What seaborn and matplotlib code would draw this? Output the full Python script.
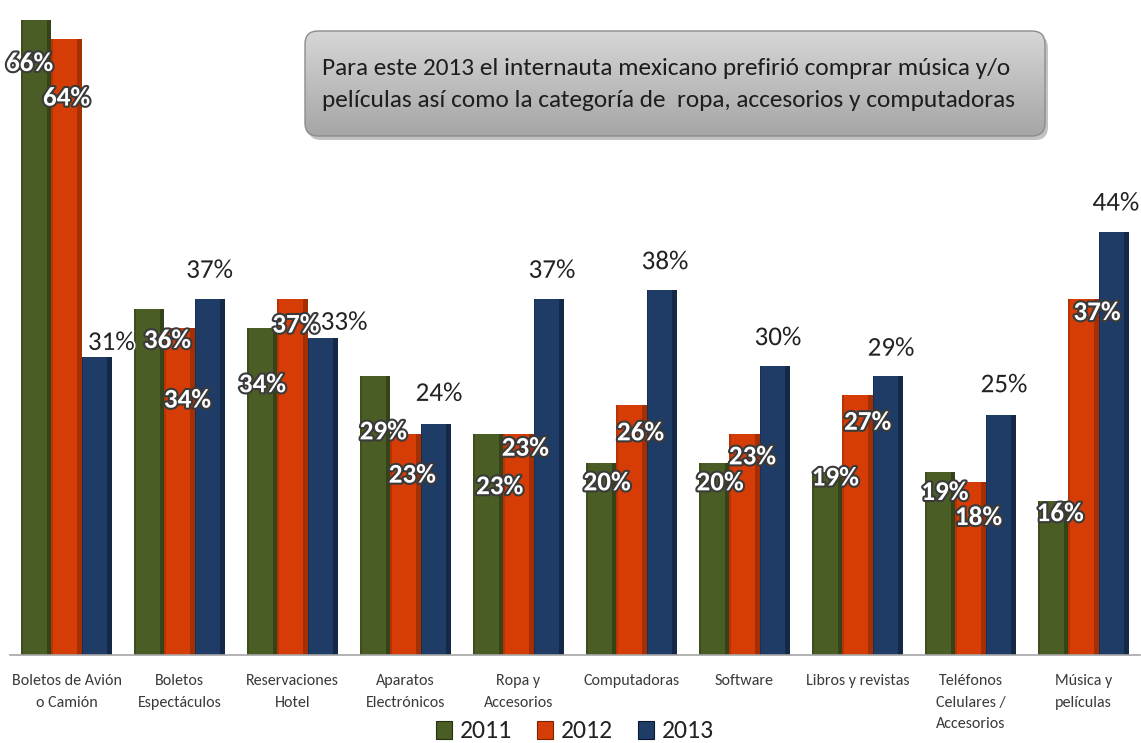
import matplotlib
matplotlib.use("Agg")
import matplotlib.pyplot as plt
import matplotlib.patheffects as pe
from matplotlib.patches import FancyBboxPatch, Rectangle
from matplotlib.colors import LinearSegmentedColormap
import numpy as np
import pandas as pd
import seaborn as sns

# ---- data ---------------------------------------------------------------
categories = [
    "Boletos de Avión\no Camión",
    "Boletos\nEspectáculos",
    "Reservaciones\nHotel",
    "Aparatos\nElectrónicos",
    "Ropa y\nAccesorios",
    "Computadoras",
    "Software",
    "Libros y revistas",
    "Teléfonos\nCelulares /\nAccesorios",
    "Música y\npelículas",
]
years = ["2011", "2012", "2013"]
v2011 = [66, 36, 34, 29, 23, 20, 20, 19, 19, 16]
v2012 = [64, 34, 37, 23, 23, 26, 23, 27, 18, 37]
v2013 = [31, 37, 33, 24, 37, 38, 30, 29, 25, 44]
title_text = ("Para este 2013 el internauta mexicano prefirió comprar música y/o\n"
              "películas así como la categoría de  ropa, accesorios y computadoras")

# label placement relative to the top of each bar (y in %, x in category units)
label_dy = {
    "2011": [-4.5, -3.3, -5.9, -5.8, -5.5, -2.1, -2.1, -0.6, -2.1, -1.3],
    "2012": [-6.1, -7.5, -2.7, -4.3, -1.5, -2.9, -2.4, -2.8, -3.7, -1.4],
    "2013": [1.5, 3.0, 1.6, 3.2, 3.0, 2.9, 3.0, 2.9, 3.1, 3.0],
}
label_dx = {
    "2011": [-0.06, 0.16, 0.0, 0.07, 0.10, 0.05, 0.05, 0.07, 0.04, 0.06],
    "2012": [0.0, 0.07, 0.03, 0.06, 0.06, 0.08, 0.07, 0.09, 0.07, 0.12],
    "2013": [0.13, 0.0, 0.19, 0.03, 0.03, 0.03, 0.03, 0.03, 0.03, 0.02],
}

df = pd.DataFrame({
    "categoria": categories * 3,
    "anio": [y for y in years for _ in categories],
    "valor": v2011 + v2012 + v2013,
})

# ---- style --------------------------------------------------------------
sns.set_theme(style="white")
plt.rcParams["font.family"] = ["Carlito", "DejaVu Sans"]

colors = {"2011": "#4a5d25", "2012": "#d63d06", "2013": "#1f3c66"}
shade = {"2011": "#25300f", "2012": "#7e2200", "2013": "#0c1a31"}

W, H = 1141, 743
fig = plt.figure(figsize=(W / 100, H / 100), dpi=100)
ax = fig.add_axes([10 / W, 88 / H, 1130 / W, 655 / H])

sns.barplot(data=df, x="categoria", y="valor", hue="anio", order=categories,
            hue_order=years, palette=colors, width=0.8, saturation=1,
            edgecolor="none", ax=ax, legend=False)

ax.set_xlim(-0.5, len(categories) - 0.5)
ax.set_ylim(0, 68.1)
ax.set_xlabel("")
ax.set_ylabel("")
ax.set_yticks([])
for s in ["top", "right", "left"]:
    ax.spines[s].set_visible(False)
ax.spines["bottom"].set_color("#a6a6a6")
ax.spines["bottom"].set_linewidth(1.2)

# category labels, ticks at group boundaries
ax.set_xticks(range(len(categories)))
ax.set_xticklabels(categories, fontsize=11.5, color="#3a3a3a", linespacing=1.65,
                   va="top")
ax.tick_params(axis="x", which="major", length=0, pad=14)
ax.set_xticks(np.arange(-0.5, len(categories), 1.0), minor=True)
ax.tick_params(axis="x", which="minor", length=8, width=1.1, color="#a6a6a6",
               direction="out")

# shaded sides of each bar (pseudo 3D) and value labels
n = len(categories)
bars_by_year = {y: ax.patches[i * n:(i + 1) * n] for i, y in enumerate(years)}

outline = [pe.withStroke(linewidth=3.0, foreground="#3a3a3a")]
halo = [pe.withStroke(linewidth=2.5, foreground="#ffffff")]
for y, vals in zip(years, [v2011, v2012, v2013]):
    for k, (bar, v) in enumerate(zip(bars_by_year[y], vals)):
        x0, w = bar.get_x(), bar.get_width()
        h = bar.get_height()
        z = bar.get_zorder()
        ax.add_patch(Rectangle((x0 + w * 0.85, 0), w * 0.15, h,
                               facecolor=shade[y], edgecolor="none", alpha=0.55,
                               zorder=z + 0.1))
        ax.add_patch(Rectangle((x0, 0), w * 0.05, h,
                               facecolor=shade[y], edgecolor="none", alpha=0.35,
                               zorder=z + 0.1))
        cx = x0 + w / 2 + label_dx[y][k]
        cy = h + label_dy[y][k]
        label = f"{v}%"
        if y == "2013":
            ax.text(cx, cy, label, ha="center", va="center", fontsize=19.5,
                    color="#222222", path_effects=halo, zorder=6)
        else:
            ax.text(cx, cy, label, ha="center", va="center", fontsize=19.5,
                    fontweight="bold", color="white", path_effects=outline,
                    zorder=6)

# ---- legend -------------------------------------------------------------
handles = [Rectangle((0, 0), 1, 1, facecolor=colors[y], edgecolor=shade[y],
                     linewidth=0.8) for y in years]
fig.legend(handles, years, loc="center", bbox_to_anchor=(575 / W, 1 - 731 / H),
           ncol=3, frameon=False, fontsize=18.5, handlelength=0.6,
           handleheight=0.7, handletextpad=0.3, columnspacing=1.0,
           labelcolor="#222222")

# ---- callout box --------------------------------------------------------
bx, by, bw, bh = 3.05, (H - 136) / 100, 7.40, 1.05
rs = "round,pad=0,rounding_size=0.13"
shadow = FancyBboxPatch((bx + 0.03, by - 0.04), bw, bh, boxstyle=rs,
                        transform=fig.dpi_scale_trans, facecolor="#9a9a9a",
                        edgecolor="none", alpha=0.6, zorder=1)
fig.patches.append(shadow)

over = fig.add_axes([0, 0, 1, 1], zorder=3)
over.set_xlim(0, W / 100)
over.set_ylim(0, H / 100)
over.axis("off")
grad = np.linspace(1, 0, 64).reshape(-1, 1)
img = over.imshow(grad, cmap=LinearSegmentedColormap.from_list("g", ["#a6a6a6", "#d6d6d6"]),
                  extent=[bx, bx + bw, by, by + bh], aspect="auto", zorder=3)
clip = FancyBboxPatch((bx, by), bw, bh, boxstyle=rs, transform=over.transData,
                      facecolor="none", edgecolor="none")
over.add_patch(clip)
img.set_clip_path(clip)
over.add_patch(FancyBboxPatch((bx, by), bw, bh, boxstyle=rs, facecolor="none",
                              edgecolor="#8c8c8c", linewidth=1.0, zorder=4))
over.text(bx + 0.17, by + bh / 2 - 0.01, title_text, ha="left", va="center",
          fontsize=18.3, color="#1e1e1e", linespacing=1.68, zorder=5)

fig.savefig("out.png", dpi=100)
